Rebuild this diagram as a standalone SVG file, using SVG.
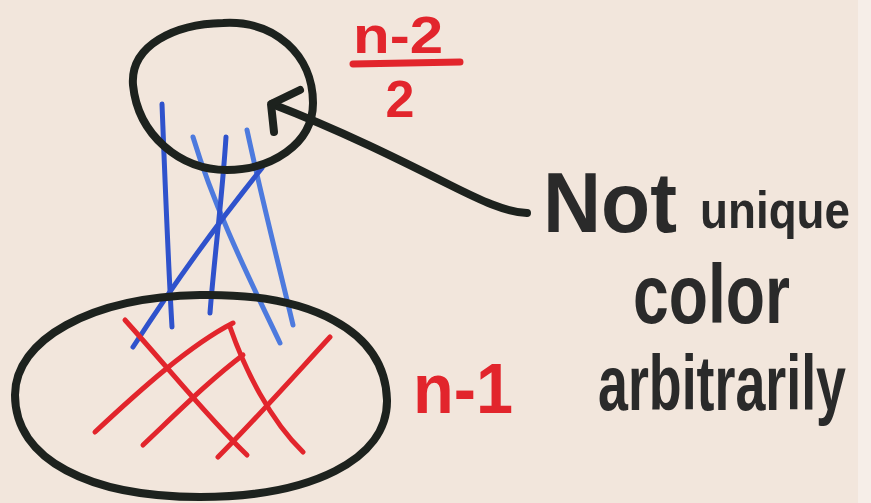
<svg xmlns="http://www.w3.org/2000/svg" width="871" height="503" viewBox="0 0 871 503">
<style>
.ink{fill:none;stroke:#1d221e;stroke-width:8;stroke-linecap:round;stroke-linejoin:round}
.blue{fill:none;stroke:#2f52cc;stroke-width:5;stroke-linecap:round}
.lblue{fill:none;stroke:#4d7ade;stroke-width:5;stroke-linecap:round}
.red{fill:none;stroke:#e2252c;stroke-width:5;stroke-linecap:round}
.t{font-family:"Liberation Sans",Arial,sans-serif;font-weight:bold;fill:#2a2a2a}
.rt{font-family:"Liberation Sans",Arial,sans-serif;font-weight:bold;fill:#e2252c}
</style>
<rect x="0" y="0" width="871" height="503" fill="#f2e6dc"/>
<rect x="858" y="0" width="13" height="503" fill="#f6eee8"/>
<g id="connectors">
<path class="blue" d="M162,104 C165,180 168,260 172,327"/>
<path class="lblue" d="M193,137 C215,210 250,280 280,343"/>
<path class="blue" d="M226,137 C222,200 214,260 210,313"/>
<path class="lblue" d="M247,130 C262,200 280,270 293,325"/>
<path class="blue" d="M262,168 C220,220 170,290 133,347"/>
<path class="ink" d="M527,213 C505,212 480,200 450,185 C400,160 340,130 272,104"/>
<path class="ink" d="M300,90 L271,104 L274,132"/>
</g>
<g id="top-set">
<path class="ink" d="M223,23 C275,20 313,55 313,103 C313,145 270,170 227,170 C180,170 138,135 133,85 C130,45 175,24 223,23 Z"/>
</g>
<g id="bottom-set">
<path class="ink" d="M200,295 C310,293 385,330 387,400 C388,460 310,497 200,497 C90,497 15,460 15,395 C15,340 90,297 200,295 Z"/>
<path class="red" d="M125,320 C170,370 210,420 247,455"/>
<path class="red" d="M95,432 C140,390 190,345 233,323"/>
<path class="red" d="M230,327 C245,370 270,420 303,452"/>
<path class="red" d="M143,445 C180,410 210,380 243,355"/>
<path class="red" d="M218,457 C255,420 295,375 330,337"/>
</g>
<g id="label-top">
<text class="rt" x="353" y="53" font-size="52" textLength="90" lengthAdjust="spacingAndGlyphs">n-2</text>
<path d="M353,64 L460,62" fill="none" stroke="#e2252c" stroke-width="7" stroke-linecap="round"/>
<text class="rt" x="400" y="117" font-size="52" text-anchor="middle">2</text>
</g>
<g id="label-bottom">
<text class="rt" x="413" y="413" font-size="70" textLength="100" lengthAdjust="spacingAndGlyphs">n-1</text>
</g>
<g id="note">
<text class="t" x="543" y="232" font-size="85" textLength="134" lengthAdjust="spacingAndGlyphs">Not</text>
<text class="t" x="700" y="228" font-size="52" textLength="150" lengthAdjust="spacingAndGlyphs">unique</text>
<text class="t" x="633" y="323" font-size="84" textLength="157" lengthAdjust="spacingAndGlyphs">color</text>
<text class="t" transform="translate(598,410) scale(1,1.35)" x="0" y="0" font-size="58" textLength="248" lengthAdjust="spacingAndGlyphs">arbitrarily</text>
</g>
</svg>
